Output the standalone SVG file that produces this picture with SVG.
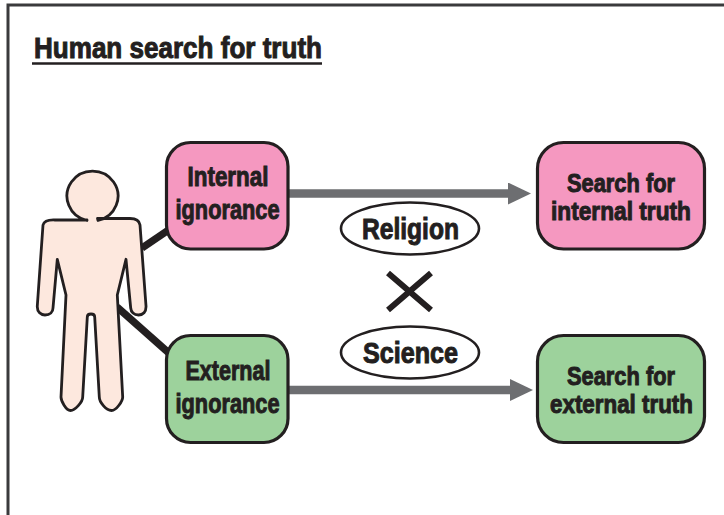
<svg xmlns="http://www.w3.org/2000/svg" width="724" height="515" viewBox="0 0 724 515">
<style>
text{font-family:"Liberation Sans",Arial,sans-serif;font-weight:700;fill:#231f20;stroke:#231f20;stroke-width:1}
.box{stroke:#231f20;stroke-width:3.2}
.pink{fill:#f598c0}
.green{fill:#9dd29c}
.oval{fill:#fff;stroke:#231f20;stroke-width:2.6}
</style>
<defs>
<marker id="arrow" markerUnits="userSpaceOnUse" markerWidth="23" markerHeight="22" refX="1" refY="11" orient="auto"><path d="M0 0L23 11L0 22Z" fill="#6d6e71"/></marker>
</defs>
<rect width="724" height="515" fill="#fff"/>
<path id="frame" d="M8 515V5H724" fill="none" stroke="#3a3a3c" stroke-width="3"/>
<g id="title">
<text x="34" y="57.500" font-size="29.500" textLength="288" lengthAdjust="spacingAndGlyphs">Human search for truth</text>
<path d="M32 63.500H322" stroke="#231f20" stroke-width="2.400"/>
</g>
<g id="connectors" fill="none">
<path d="M142 248L170 229" stroke="#231f20" stroke-width="7.500"/>
<path d="M117 307L170 354" stroke="#231f20" stroke-width="7.500"/>
<path d="M288 193.500H509" stroke="#6d6e71" stroke-width="8.500" marker-end="url(#arrow)"/>
<path d="M288 390H511" stroke="#6d6e71" stroke-width="8.500" marker-end="url(#arrow)"/>
</g>
<g id="person">
<path d="M87 220H55Q44.500 219.500 43 225L37.300 306C37 312 41 315 45 315C50 315 53 312 53 308L57.300 259.300L66 295L61 397C61 401 66 410.500 70.500 410.500C75 410.500 82.700 402 82.700 397L87.300 317Q87.300 314 91 314Q94.700 314 94.700 317L99.300 397C99.300 402 106 410.500 111.500 410.500C116.500 410.500 122.700 401 122.700 397L117.300 295L126 259.300L130.700 308C131 312 134 315 138.500 315C143 315 146.300 312 146 306L140 225Q139 218.500 130 218.500H97.500L98 220.500A25.500 25 0 1 0 87 220.500Z" fill="#fde8de" stroke="#231f20" stroke-width="2.800" stroke-linejoin="round"/>
</g>
<g id="internal-ignorance">
<rect class="box pink" x="166.500" y="142.500" width="121.500" height="106.500" rx="24"/>
<text x="187.500" y="185.500" font-size="27" textLength="81" lengthAdjust="spacingAndGlyphs">Internal</text>
<text x="175.500" y="219" font-size="27" textLength="104" lengthAdjust="spacingAndGlyphs">ignorance</text>
</g>
<g id="external-ignorance">
<rect class="box green" x="166.500" y="335.500" width="121.500" height="107" rx="24"/>
<text x="185.500" y="379.500" font-size="27" textLength="85" lengthAdjust="spacingAndGlyphs">External</text>
<text x="175.500" y="413" font-size="27" textLength="104" lengthAdjust="spacingAndGlyphs">ignorance</text>
</g>
<g id="search-internal">
<rect class="box pink" x="537.500" y="142.500" width="167" height="106.500" rx="26"/>
<text x="567" y="192" font-size="26" textLength="108" lengthAdjust="spacingAndGlyphs">Search for</text>
<text x="551" y="219.500" font-size="26" textLength="140" lengthAdjust="spacingAndGlyphs">internal truth</text>
</g>
<g id="search-external">
<rect class="box green" x="537.500" y="335.500" width="167" height="107" rx="26"/>
<text x="567" y="385" font-size="26" textLength="108" lengthAdjust="spacingAndGlyphs">Search for</text>
<text x="550" y="413" font-size="26" textLength="143" lengthAdjust="spacingAndGlyphs">external truth</text>
</g>
<g id="religion">
<ellipse class="oval" cx="410" cy="228.500" rx="69" ry="26"/>
<text x="362" y="238.500" font-size="29" textLength="97" lengthAdjust="spacingAndGlyphs">Religion</text>
</g>
<g id="science">
<ellipse class="oval" cx="410" cy="352.500" rx="69" ry="26"/>
<text x="363" y="363" font-size="29" textLength="95" lengthAdjust="spacingAndGlyphs">Science</text>
</g>
<path id="cross" d="M388 273L431 310M431 273L388 310" fill="none" stroke="#231f20" stroke-width="6"/>
</svg>
